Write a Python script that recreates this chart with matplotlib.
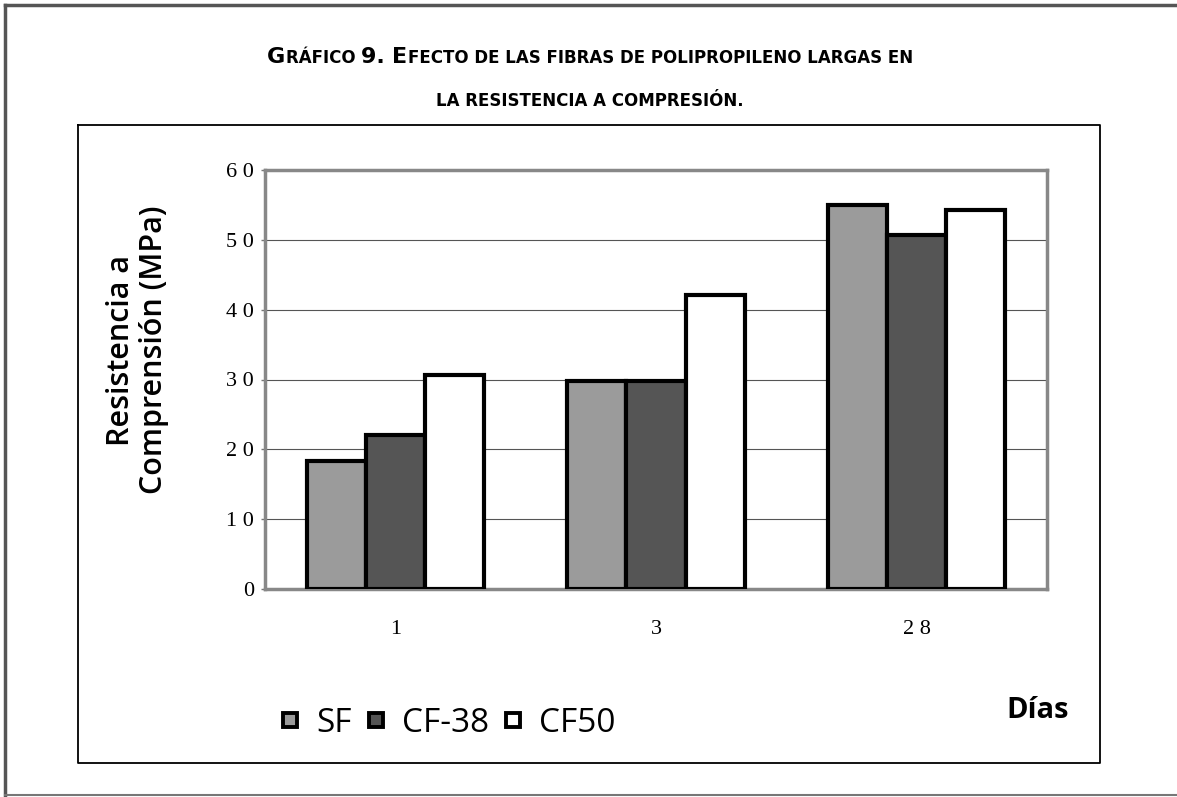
import numpy as np
import matplotlib.pyplot as plt
from matplotlib.lines import Line2D

dias = ['1', '3', '2 8']
series = ['SF', 'CF-38', 'CF50']
sf = [18.3, 29.8, 55.0]
cf38 = [22.0, 29.8, 50.7]
cf50 = [30.6, 42.1, 54.3]
yticks = [0, 10, 20, 30, 40, 50, 60]
ytick_labels = ['0', '1 0', '2 0', '3 0', '4 0', '5 0', '6 0']

colores = ['#9b9b9b', '#555555', '#ffffff']

W, H = 1177, 797
fig = plt.figure(figsize=(W / 100, H / 100), dpi=100)
fig.patch.set_facecolor('white')

def fx(px):
    return px / W

def fy(py):
    return 1 - py / H

# marco exterior y recuadro del grafico
fig.add_artist(Line2D([fx(5), 1], [fy(5), fy(5)], color='#555555', lw=2.5))
fig.add_artist(Line2D([fx(5), fx(5)], [fy(5), fy(795)], color='#555555', lw=2.5))
fig.add_artist(Line2D([fx(5), 1], [fy(795), fy(795)], color='#777777', lw=1.5))
fig.add_artist(Line2D([fx(78), fx(1100), fx(1100), fx(78), fx(78)],
                      [fy(125), fy(125), fy(763), fy(763), fy(125)],
                      color='black', lw=1.3))

ax = fig.add_axes([fx(265), fy(589), fx(1047) - fx(265), fy(170) - fy(589)])
x = np.arange(len(dias))
w = 0.227
for i, vals in enumerate([sf, cf38, cf50]):
    ax.bar(x + (i - 1) * w, vals, w, color=colores[i], edgecolor='black',
           linewidth=3, label=series[i], zorder=3)

ax.set_xlim(-0.5, 2.5)
ax.set_ylim(0, 60)
ax.set_yticks(yticks)
ax.set_yticklabels(ytick_labels, fontfamily='Liberation Serif', fontsize=16)
ax.set_xticks(x)
ax.set_xticklabels(dias, fontfamily='Liberation Serif', fontsize=16)
ax.tick_params(axis='x', length=0, pad=22)
ax.tick_params(axis='y', length=3, width=1, color='#777777', pad=5)
ax.yaxis.grid(True, color='#555555', lw=0.8, zorder=0)
for s in ax.spines.values():
    s.set_color('#888888')
    s.set_linewidth(2.5)

fig.text(fx(121), fy(350), 'Resistencia a', rotation=90, ha='center', va='center',
         fontfamily='Open Sans', fontweight='semibold', fontsize=22)
fig.text(fx(154), fy(350), 'Comprensión (MPa)', rotation=90, ha='center', va='center',
         fontfamily='Open Sans', fontweight='semibold', fontsize=22)
fig.text(fx(1038), fy(710), 'Días', ha='center', va='center',
         fontfamily='Open Sans', fontweight='bold', fontsize=21)

# leyenda inferior
handles = [Line2D([], [], ls='none', marker='s', markersize=10, markerfacecolor=c,
                  markeredgecolor='black', markeredgewidth=2.8) for c in colores]
fig.legend(handles, series, loc='center left', bbox_to_anchor=(fx(250), fy(723)),
           ncol=3, frameon=False, handlelength=0.6, handletextpad=0.5,
           columnspacing=0.4, prop={'family': 'Open Sans', 'size': 24})

# titulo en versalitas: cada tramo con su propio tamano
def versalitas(partes, cy):
    fig.canvas.draw()
    r = fig.canvas.get_renderer()
    textos = []
    for s, tam in partes:
        t = fig.text(0, fy(cy), s, fontsize=tam, fontweight='bold',
                     fontfamily='DejaVu Sans', va='baseline')
        textos.append(t)
    anchos = [t.get_window_extent(r).width for t in textos]
    total = sum(anchos)
    x0 = 590 - total / 2
    for t, a in zip(textos, anchos):
        t.set_x(fx(x0))
        x0 += a

versalitas([('G', 16), ('RÁFICO ', 12), ('9. ', 16), ('E', 16),
            ('FECTO DE LAS FIBRAS DE POLIPROPILENO LARGAS EN', 12)], 63)
versalitas([('LA RESISTENCIA A COMPRESIÓN.', 12)], 106)

fig.savefig('out.png', dpi=100)
